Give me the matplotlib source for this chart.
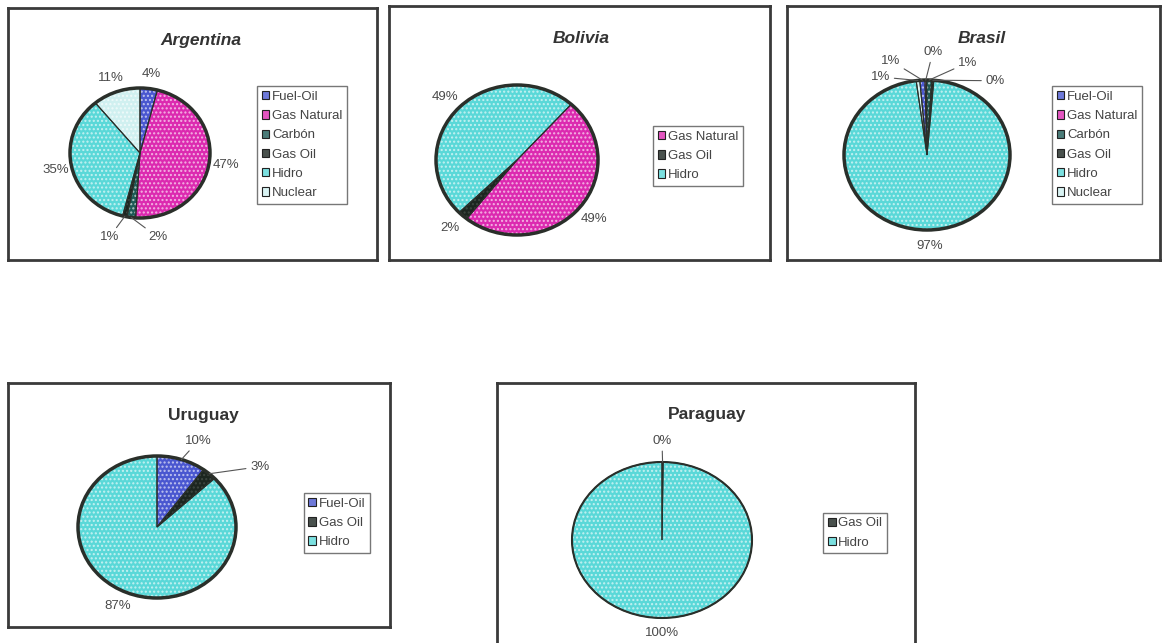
import numpy as np
import matplotlib
matplotlib.use('Agg')
import matplotlib.pyplot as plt
from matplotlib.colors import to_rgb

plt.rcParams['font.family'] = ['Liberation Sans', 'DejaVu Sans']
plt.rcParams['hatch.linewidth'] = 1.0

W, H = 1164, 643

# data
arg_labels = ['Fuel-Oil', 'Gas Natural', 'Carbón', 'Gas Oil', 'Hidro', 'Nuclear']
arg_values = [4, 47, 2, 1, 35, 11]
bol_labels = ['Gas Natural', 'Gas Oil', 'Hidro']
bol_values = [49, 2, 49]
bra_labels = ['Fuel-Oil', 'Gas Natural', 'Carbón', 'Gas Oil', 'Hidro', 'Nuclear']
bra_values = [1.0, 0.3, 1.0, 0.4, 96.6, 0.7]
uru_labels = ['Fuel-Oil', 'Gas Oil', 'Hidro']
uru_values = [10, 3, 87]
par_labels = ['Gas Oil', 'Hidro']
par_values = [0.2, 99.8]

fuel_colors = {'Fuel-Oil': '#4a57d0', 'Gas Natural': '#dc2ab0', 'Carbón': '#1d5a56',
               'Gas Oil': '#1c2620', 'Hidro': '#5ad8d8', 'Nuclear': '#d0f0f0'}
TXT = '#4a4a4a'
EDGE = '#2a2f2a'


def lighter(c, f):
    r, g, b = to_rgb(c)
    return (r + (1 - r) * f, g + (1 - g) * f, b + (1 - b) * f)


def px_rect(x0, y0, x1, y1):
    return [x0 / W, 1 - y1 / H, (x1 - x0) / W, (y1 - y0) / H]


fig = plt.figure(figsize=(W / 100, H / 100), dpi=100)


def panel(box, title, italic, pie_c, rx, ry, labels, values, start, legend_c,
          lab_pos=None, leaders=(), lw_out=2.5):
    # frame
    pa = fig.add_axes(px_rect(*box))
    pa.set_xticks([]); pa.set_yticks([])
    pa.patch.set_facecolor('white')
    for s in pa.spines.values():
        s.set_linewidth(2)
        s.set_color('#3a3a3a')
    pa.set_xlim(box[0], box[2]); pa.set_ylim(box[3], box[1])
    pa.text(0.5 * (box[0] + box[2]) + pie_c[2], box[1] + 32, title, ha='center', va='center',
            fontsize=12.5, fontweight='bold', style='italic' if italic else 'normal',
            color='#333333')

    cx, cy = pie_c[0], pie_c[1]
    k = 1.08
    ax = fig.add_axes(px_rect(cx - rx * k, cy - ry * k, cx + rx * k, cy + ry * k))
    cols = [fuel_colors[l] for l in labels]
    wedges, _ = ax.pie(values, colors=cols, startangle=start, counterclock=False,
                       wedgeprops=dict(linewidth=0))
    for w, c in zip(wedges, cols):
        w.set_hatch('....')
        w.set_edgecolor(lighter(c, 0.65 if c != fuel_colors['Gas Oil'] else 0.15))
        w.set_linewidth(0)
    ax.pie(values, startangle=start, counterclock=False,
           wedgeprops=dict(fill=False, edgecolor=EDGE, linewidth=0.8))
    ax.add_patch(plt.Circle((0, 0), 1, fill=False, ec=EDGE, lw=lw_out))
    ax.set_aspect('auto')
    ax.set_xlim(-k, k); ax.set_ylim(-k, k)
    ax.axis('off')

    lab_pos = lab_pos or {}
    for i, w in enumerate(wedges):
        mid = np.deg2rad(0.5 * (w.theta1 + w.theta2))
        txt = f'{round(values[i])}%'
        if i in lab_pos:
            tx, ty = lab_pos[i]
        else:
            tx, ty = 1.24 * np.cos(mid), 1.22 * np.sin(mid)
        if i in leaders:
            ax.annotate(txt, xy=(np.cos(mid), np.sin(mid)), xytext=(tx, ty),
                        ha='center', va='center', fontsize=9.5, color=TXT,
                        arrowprops=dict(arrowstyle='-', color='#555555', lw=0.8,
                                        shrinkA=1, shrinkB=0))
        else:
            ax.text(tx, ty, txt, ha='center', va='center', fontsize=9.5, color=TXT)

    # legend
    handles = []
    for w, c in zip(wedges, cols):
        handles.append(plt.Rectangle((0, 0), 1, 1, fc=lighter(c, 0.2), ec='#222222',
                                     lw=0.8))
    leg = fig.legend(handles, labels, loc='center',
                     bbox_to_anchor=(legend_c[0] / W, 1 - legend_c[1] / H),
                     fontsize=9.5, frameon=True, fancybox=False, handlelength=0.6,
                     handleheight=0.6, handletextpad=0.2, borderpad=0.35,
                     labelspacing=0.55, borderaxespad=0)
    leg.get_frame().set_edgecolor('#555555')
    leg.get_frame().set_linewidth(1)
    for t in leg.get_texts():
        t.set_color('#444444')


panel((8, 8, 377, 260), 'Argentina', True, (140, 153, 8), 70, 65,
      arg_labels, arg_values, 90, (302, 145),
      lab_pos={2: (0.26, -1.3), 3: (-0.44, -1.3)}, leaders=(2, 3))

panel((389, 6, 770, 260), 'Bolivia', True, (517, 160, 2), 81, 75,
      bol_labels, bol_values, 48, (698, 156))

panel((787, 6, 1160, 260), 'Brasil', True, (927, 155, 8), 83, 75,
      bra_labels, bra_values, 95, (1097, 145),
      lab_pos={5: (-0.56, 1.04), 0: (-0.44, 1.26), 1: (0.07, 1.37),
               2: (0.49, 1.23), 3: (0.82, 0.99)},
      leaders=(0, 1, 2, 3, 5))

panel((8, 383, 390, 627), 'Uruguay', False, (157, 527, 4), 79, 71,
      uru_labels, uru_values, 90, (337, 523),
      lab_pos={0: (0.52, 1.21), 1: (1.3, 0.85)}, leaders=(0, 1))

panel((497, 383, 915, 660), 'Paraguay', False, (662, 540, 1), 90, 78,
      par_labels, par_values, 90, (855, 533),
      lab_pos={0: (0.0, 1.27), 1: (0.0, -1.19)}, leaders=(0,), lw_out=1.5)

fig.savefig('out.png', dpi=100)
